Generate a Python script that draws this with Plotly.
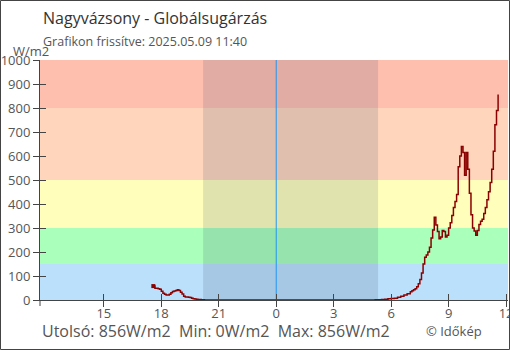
import plotly.graph_objects as go

# ---- data ----
times = [
    "2025-05-08 17:35", "2025-05-08 17:40", "2025-05-08 17:45", "2025-05-08 17:50", "2025-05-08 17:55",
    "2025-05-08 18:00", "2025-05-08 18:05", "2025-05-08 18:10", "2025-05-08 18:15", "2025-05-08 18:20",
    "2025-05-08 18:25", "2025-05-08 18:30", "2025-05-08 18:35", "2025-05-08 18:40", "2025-05-08 18:45",
    "2025-05-08 18:50", "2025-05-08 18:55", "2025-05-08 19:00", "2025-05-08 19:05", "2025-05-08 19:10",
    "2025-05-08 19:15", "2025-05-08 19:20", "2025-05-08 19:25", "2025-05-08 19:30", "2025-05-08 19:35",
    "2025-05-08 19:40", "2025-05-08 19:45", "2025-05-08 19:50", "2025-05-08 19:55", "2025-05-08 20:00",
    "2025-05-08 20:05", "2025-05-08 20:10", "2025-05-08 20:15",
    "2025-05-09 05:00", "2025-05-09 05:10", "2025-05-09 05:20", "2025-05-09 05:30", "2025-05-09 05:40",
    "2025-05-09 05:50", "2025-05-09 06:00", "2025-05-09 06:10", "2025-05-09 06:20", "2025-05-09 06:30",
    "2025-05-09 06:40", "2025-05-09 06:50", "2025-05-09 07:00", "2025-05-09 07:05", "2025-05-09 07:10",
    "2025-05-09 07:15", "2025-05-09 07:20", "2025-05-09 07:25", "2025-05-09 07:30", "2025-05-09 07:35",
    "2025-05-09 07:40", "2025-05-09 07:45", "2025-05-09 07:50", "2025-05-09 07:55", "2025-05-09 08:00",
    "2025-05-09 08:05", "2025-05-09 08:10", "2025-05-09 08:15", "2025-05-09 08:20", "2025-05-09 08:25",
    "2025-05-09 08:30", "2025-05-09 08:35", "2025-05-09 08:40", "2025-05-09 08:45", "2025-05-09 08:50",
    "2025-05-09 08:55", "2025-05-09 09:00", "2025-05-09 09:05", "2025-05-09 09:10", "2025-05-09 09:15",
    "2025-05-09 09:20", "2025-05-09 09:25", "2025-05-09 09:30", "2025-05-09 09:35", "2025-05-09 09:40",
    "2025-05-09 09:45", "2025-05-09 09:50", "2025-05-09 09:55", "2025-05-09 10:00", "2025-05-09 10:05",
    "2025-05-09 10:10", "2025-05-09 10:15", "2025-05-09 10:20", "2025-05-09 10:25", "2025-05-09 10:30",
    "2025-05-09 10:35", "2025-05-09 10:40", "2025-05-09 10:45", "2025-05-09 10:50", "2025-05-09 10:55",
    "2025-05-09 11:00", "2025-05-09 11:05", "2025-05-09 11:10", "2025-05-09 11:15", "2025-05-09 11:20",
    "2025-05-09 11:25", "2025-05-09 11:30", "2025-05-09 11:35",
]
radiation = [
    58, 49, 49, 47, 45,
    36, 28, 24, 21, 21,
    24, 30, 35, 37, 40,
    43, 40, 32, 25, 16,
    13, 12, 11, 10, 7,
    5, 4, 3, 2, 2,
    1, 1, 0,
    0, 1, 1, 2, 3,
    5, 6, 7, 11, 16,
    21, 26, 34, 39, 43,
    47, 55, 68, 85, 112,
    150, 178, 187, 200, 220,
    258, 292, 345, 312, 285,
    255, 262, 290, 285, 262,
    270, 300, 322, 352, 385,
    410, 440, 555, 600, 640,
    615, 520, 615, 545, 445,
    355, 300, 288, 270, 290,
    315, 328, 336, 360, 385,
    418, 451, 490, 545, 620,
    730, 790, 856,
]

x_range = ["2025-05-08 11:40", "2025-05-09 12:06"]
tick_vals = ["2025-05-08 15:00", "2025-05-08 18:00", "2025-05-08 21:00", "2025-05-09 00:00",
             "2025-05-09 03:00", "2025-05-09 06:00", "2025-05-09 09:00", "2025-05-09 12:00"]
tick_text = ["15", "18", "21", "0", "3", "6", "9", "12"]
y_ticks = [0, 100, 200, 300, 400, 500, 600, 700, 800, 900, 1000]

band_edges = [0, 150, 300, 500, 800, 1000]
band_colors = ["#bbe0fb", "#aaffbb", "#ffffbb", "#ffd5bb", "#ffbfae"]
night = ["2025-05-08 20:11", "2025-05-09 05:19"]
midnight = "2025-05-09 00:00"

title = "Nagyvázsony - Globálsugárzás"
subtitle = "Grafikon frissítve: 2025.05.09 11:40"
footer = "Utolsó: 856W/m2  Min: 0W/m2  Max: 856W/m2"
credit = "© Időkép"
unit = "W/m2"

FONT = "Open Sans"
AX = "#444444"

fig = go.Figure()
fig.add_trace(go.Scatter(
    x=times, y=radiation, mode="lines", line=dict(color="#8b0000", width=1.5, shape="hv"),
    hoverinfo="skip", showlegend=False))
fig.add_trace(go.Scatter(
    x=times[:1], y=radiation[:1], mode="markers",
    marker=dict(symbol="square", size=4, color="#8b0000"), hoverinfo="skip", showlegend=False))
# dummy trace for overlay axes (inside tick marks)
fig.add_trace(go.Scatter(x=times[:1], y=radiation[:1], xaxis="x2", yaxis="y2", mode="markers",
                         marker=dict(size=0, opacity=0), hoverinfo="skip", showlegend=False))

shapes = []
for i, c in enumerate(band_colors):
    shapes.append(dict(type="rect", xref="paper", yref="y", x0=0, x1=1,
                       y0=band_edges[i], y1=band_edges[i + 1], fillcolor=c,
                       line=dict(width=0), layer="below"))
shapes.append(dict(type="rect", xref="x", yref="paper", x0=night[0], x1=night[1], y0=0, y1=1,
                   fillcolor="rgba(45,70,100,0.15)", line=dict(width=0), layer="below"))
shapes.append(dict(type="line", xref="x", yref="paper", x0=midnight, x1=midnight, y0=0, y1=1,
                   line=dict(color="#2196f3", width=1), layer="below"))
# y axis line continues a little below the x axis
shapes.append(dict(type="line", xref="paper", yref="paper", x0=0, x1=0, y0=-6 / 240, y1=0,
                   line=dict(color=AX, width=1)))
# page frame
shapes.append(dict(type="rect", xref="paper", yref="paper",
                   x0=(0.5 - 40) / 468, x1=(509.5 - 40) / 468,
                   y0=(300 - 349.5) / 240, y1=(300 - 0.5) / 240,
                   line=dict(color="#444444", width=1), fillcolor="rgba(0,0,0,0)"))

annotations = [
    dict(text=title, xref="paper", yref="paper", x=(41 - 40) / 468, y=(300 - 18) / 240,
         xanchor="left", yanchor="middle", showarrow=False, font=dict(family=FONT, size=16, color="#333333")),
    dict(text=subtitle, xref="paper", yref="paper", x=(41 - 40) / 468, y=(300 - 41) / 240,
         xanchor="left", yanchor="middle", showarrow=False, font=dict(family=FONT, size=12.5, color="#555555")),
    dict(text=unit, xref="paper", yref="paper", x=(11 - 40) / 468, y=(300 - 51) / 240,
         xanchor="left", yanchor="middle", showarrow=False, font=dict(family=FONT, size=13, color="#555555")),
    dict(text=footer, xref="paper", yref="paper", x=(40 - 40) / 468, y=(300 - 331) / 240,
         xanchor="left", yanchor="middle", showarrow=False, font=dict(family=FONT, size=16, color="#555555")),
    dict(text=credit, xref="paper", yref="paper", x=(424 - 40) / 468, y=(300 - 331) / 240,
         xanchor="left", yanchor="middle", showarrow=False, font=dict(family=FONT, size=13, color="#555555")),
]

fig.update_layout(
    width=510, height=350,
    margin=dict(l=40, r=2, t=60, b=50),
    paper_bgcolor="white", plot_bgcolor="white",
    font=dict(family=FONT, color="#555555"),
    shapes=shapes, annotations=annotations,
    xaxis=dict(type="date", range=x_range, tickvals=tick_vals, ticktext=tick_text,
               showgrid=False, zeroline=False, showline=True, linecolor=AX, linewidth=1,
               ticks="outside", ticklen=6, tickcolor=AX, tickfont=dict(size=13, color="#555555"),
               ticklabelstandoff=-5, ticklabeloverflow="allow", automargin=False),
    yaxis=dict(range=[0, 1000], tickvals=y_ticks, showgrid=False, zeroline=False,
               showline=True, linecolor=AX, linewidth=1, ticks="outside", ticklen=6, tickcolor=AX,
               tickfont=dict(size=13, color="#555555"), automargin=False),
    xaxis2=dict(type="date", overlaying="x", matches="x", range=x_range, tickvals=tick_vals,
                showticklabels=False, showgrid=False, zeroline=False, showline=False,
                ticks="inside", ticklen=6, tickcolor=AX, anchor="y2", side="bottom", automargin=False),
    yaxis2=dict(overlaying="y", matches="y", range=[0, 1000], tickvals=y_ticks,
                showticklabels=False, showgrid=False, zeroline=False, showline=False,
                ticks="inside", ticklen=6, tickcolor=AX, anchor="x2", side="left", automargin=False),
)

fig.write_html("out.html")
